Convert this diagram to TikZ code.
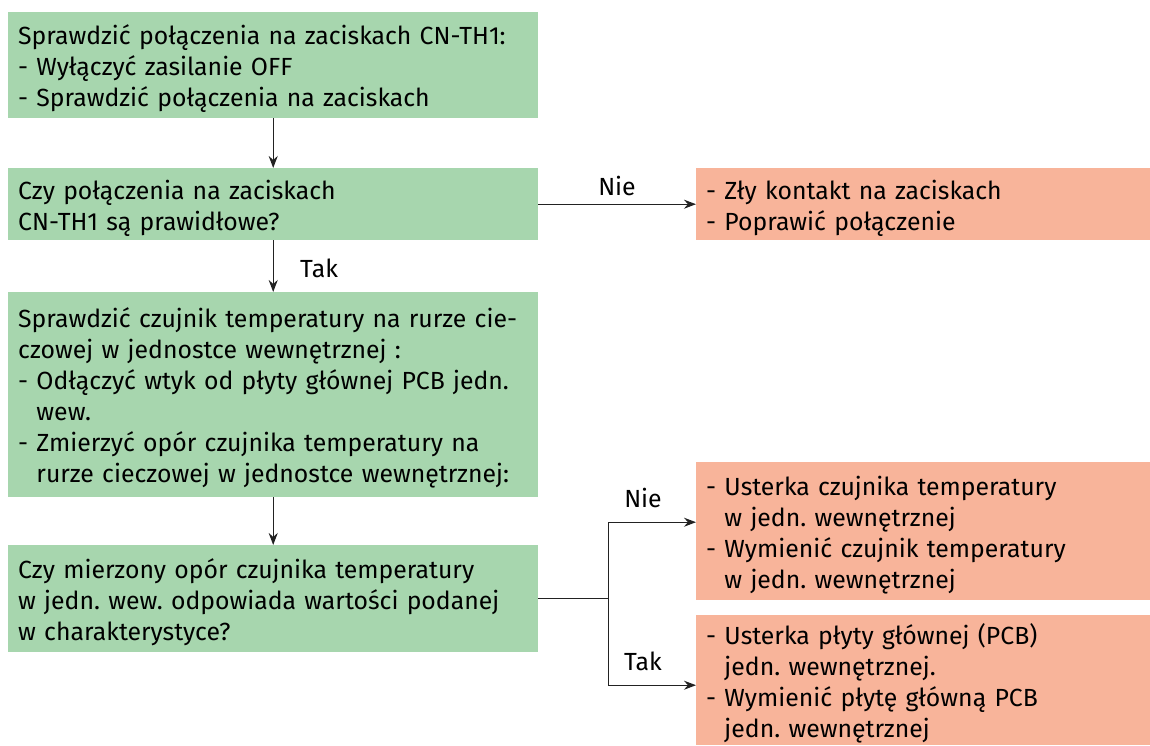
\documentclass[tikz,border=0pt]{standalone}
\usepackage{fontspec}
\setmainfont{Fira Sans}
\usetikzlibrary{arrows.meta,calc}
\definecolor{boxgreen}{HTML}{A7D6AE}
\definecolor{boxorange}{HTML}{F8B49A}
\definecolor{lineclr}{HTML}{222222}
\newcommand{\hind}{\hphantom{- }}
\frenchspacing
\begin{document}
\begin{tikzpicture}[x=1pt,y=-1pt,
  base/.style={anchor=north west, inner xsep=10pt, inner ysep=0pt, align=left,
    font=\fontsize{24.8}{31}\selectfont, text=black,
    execute at begin node={\rule{0pt}{27pt}}},
  greenbox/.style={base, fill=boxgreen, text width=510pt},
  redbox/.style={base, fill=boxorange, text width=434pt},
  conn/.style={draw=lineclr, line width=1.1pt, -{Stealth[length=12pt,width=9pt]}},
  plain/.style={draw=lineclr, line width=1.1pt},
  lbl/.style={font=\fontsize{24.8}{31}\selectfont, inner sep=0pt}]
\useasboundingbox (0,0) rectangle (1150,745);

\node[greenbox, minimum height=106pt] (b1) at (8,12)
  {Sprawdzić połączenia na zaciskach CN-TH1:\\- Wyłączyć zasilanie OFF\\- Sprawdzić połączenia na zaciskach};
\node[greenbox, minimum height=72pt] (b2) at (8,168)
  {Czy połączenia na zaciskach\\CN-TH1 są prawidłowe?};
\node[greenbox, minimum height=205pt] (b3) at (8,292)
  {Sprawdzić czujnik temperatury na rurze cie-\\czowej w jednostce wewnętrznej :\\- Odłączyć wtyk od płyty głównej PCB jedn.\\\hind wew.\\- Zmierzyć opór czujnika temperatury na\\\hind rurze cieczowej w jednostce wewnętrznej:};
\node[greenbox, minimum height=107pt] (b4) at (8,545)
  {Czy mierzony opór czujnika temperatury\\w jedn. wew. odpowiada wartości podanej\\w charakterystyce?};

\node[redbox, minimum height=138pt] (r2) at (696,462)
  {- Usterka czujnika temperatury\\\hind w jedn. wewnętrznej\\- Wymienić czujnik temperatury\\\hind w jedn. wewnętrznej};
\node[redbox, minimum height=72pt] (r1) at (696,168)
  {- Zły kontakt na zaciskach\\- Poprawić połączenie};
\node[redbox, minimum height=130pt] (r3) at (696,615)
  {- Usterka płyty głównej (PCB)\\\hind jedn. wewnętrznej.\\- Wymienić płytę główną PCB\\\hind jedn. wewnętrznej};

\draw[conn] (b1.south) -- (b2.north);
\draw[conn] (b2.east) -- (r1.west);
\draw[conn] (b2.south) -- (b3.north);
\draw[conn] (b3.south) -- (b4.north);

\coordinate (jn) at ($(b4.east)+(70,0)$);
\draw[plain] (b4.east) -- (jn);
\draw[conn] (jn) |- ($(r2.west)+(0,-9)$);
\draw[conn] (jn) |- ($(r3.west)+(0,5)$);

\node[lbl] (l1) at (617,186) {Nie};
\node[lbl, anchor=west] (l2) at (300,268) {Tak};
\node[lbl] (l3) at (643,498) {Nie};
\node[lbl] (l4) at (643,661) {Tak};
\end{tikzpicture}
\end{document}
